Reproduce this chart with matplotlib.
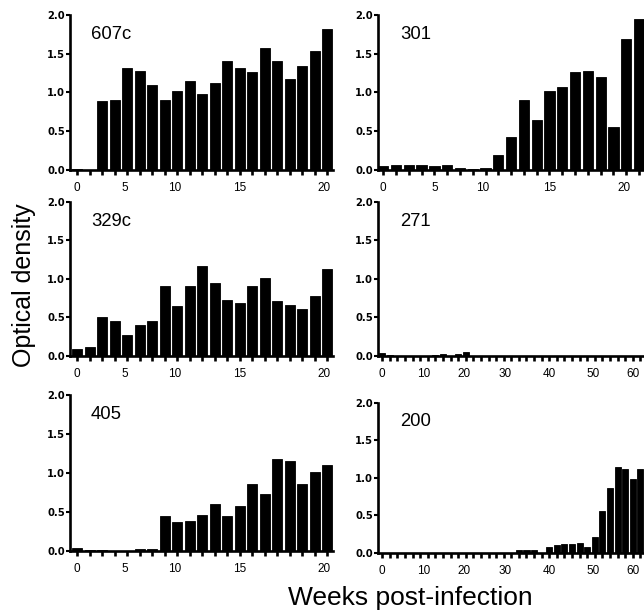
"""Optical density per week post-infection, six animals, bar panels."""

import matplotlib
matplotlib.use("Agg")
import matplotlib.pyplot as plt

plt.rcParams["font.family"] = ["Liberation Sans", "DejaVu Sans"]

# ── data (bar index = sample number along the x axis) ──
od_607c = [0.01, 0.0, 0.89, 0.90, 1.31, 1.28, 1.10, 0.90, 1.02, 1.15, 0.98,
           1.12, 1.40, 1.31, 1.27, 1.58, 1.41, 1.17, 1.34, 1.53, 1.82]
od_329c = [0.09, 0.11, 0.50, 0.45, 0.27, 0.40, 0.45, 0.91, 0.65, 0.90, 1.16,
           0.94, 0.72, 0.69, 0.91, 1.01, 0.71, 0.66, 0.61, 0.77, 1.13]
od_405 = [0.04, 0.01, 0.01, 0.0, 0.0, 0.02, 0.03, 0.45, 0.37, 0.39, 0.46,
          0.60, 0.45, 0.58, 0.86, 0.73, 1.18, 1.16, 0.86, 1.01, 1.10]
od_301 = [0.05, 0.06, 0.07, 0.06, 0.05, 0.06, 0.03, 0.01, 0.03, 0.19, 0.42,
          0.90, 0.64, 1.02, 1.07, 1.26, 1.28, 1.20, 0.56, 1.69, 1.95]
od_271 = [0.04, 0.01, 0.0, 0.0, 0.0, 0.0, 0.0, 0.01, 0.02, 0.0, 0.02,
          0.05, 0.0, 0.0, 0.0, 0.0, 0.0, 0.0, 0.0, 0.0, 0.0, 0.0,
          0.0, 0.0, 0.0, 0.0, 0.0, 0.0, 0.0, 0.0, 0.0, 0.0, 0.0, 0.0, 0.0]
od_200 = [0.0, 0.0, 0.0, 0.0, 0.0, 0.0, 0.0, 0.0, 0.0, 0.0, 0.0, 0.0,
          0.0, 0.0, 0.0, 0.0, 0.0, 0.0, 0.04, 0.03, 0.03, 0.0, 0.08, 0.10,
          0.11, 0.11, 0.13, 0.07, 0.21, 0.56, 0.86, 1.14, 1.12, 0.98, 1.12]

# week labels and where they sit along the sample axis
short_labels = ["0", "5", "10", "15", "20"]
short_label_pos_left = [0, 3.8, 7.8, 13.0, 19.7]
short_label_pos_right = [0, 4.0, 7.8, 13.05, 18.8]
long_labels = ["0", "10", "20", "30", "40", "50", "60"]
long_label_pos = [0, 5.5, 10.8, 16.2, 22.0, 27.8, 33.0]
n_long_ticks = 36

y_ticks = [0.0, 0.5, 1.0, 1.5, 2.0]

W, H = 644, 615


def px_axes(fig, left, top, right, bottom):
    """Add axes from pixel box (origin top-left)."""
    return fig.add_axes([left / W, 1 - bottom / H, (right - left) / W, (bottom - top) / H])


def draw_panel(ax, values, name, xlim, n_ticks, label_pos, labels):
    xs = list(range(len(values)))
    ax.bar(xs, values, width=0.8, color="black", edgecolor="black", linewidth=0.6)
    ax.set_xlim(*xlim)
    ax.set_ylim(0, 2.0)
    for side in ("top", "right"):
        ax.spines[side].set_visible(False)
    for side in ("left", "bottom"):
        ax.spines[side].set_linewidth(1.9)
        ax.spines[side].set_zorder(3)

    ax.set_yticks(y_ticks)
    ax.set_yticklabels([f"{v:.1f}" for v in y_ticks], fontweight="bold", fontsize=7.2,
                       family="DejaVu Sans")
    ax.tick_params(axis="y", length=3, width=1.5, pad=0.5)

    # labels on major ticks (no mark), a short mark under every sample as minor ticks
    ax.xaxis.remove_overlapping_locs = False
    ax.set_xticks(label_pos)
    ax.set_xticklabels(labels, fontsize=8.5)
    ax.tick_params(axis="x", which="major", length=0, pad=9)
    ax.set_xticks(list(range(n_ticks)), minor=True)
    ax.tick_params(axis="x", which="minor", length=3.5, width=1.9)

    ax.text(0.08, 0.845, name, transform=ax.transAxes, fontsize=13.3)


fig = plt.figure(figsize=(W / 100, H / 100), dpi=100)

ax1 = px_axes(fig, 70, 15, 333, 170)
draw_panel(ax1, od_607c, "607c", (-0.58, 20.45), 21, short_label_pos_left, short_labels)
ax2 = px_axes(fig, 70, 201.7, 333, 355.7)
draw_panel(ax2, od_329c, "329c", (-0.58, 20.45), 21, short_label_pos_left, short_labels)
ax3 = px_axes(fig, 70, 395, 333, 551)
draw_panel(ax3, od_405, "405", (-0.58, 20.45), 21, short_label_pos_left, short_labels)

# right column runs past the right edge of the picture
ax4 = px_axes(fig, 378, 15, 651.8, 170)
draw_panel(ax4, od_301, "301", (-0.41, 21.0), 21, short_label_pos_right, short_labels)
ax5 = px_axes(fig, 378, 201.7, 651.8, 355.7)
draw_panel(ax5, od_271, "271", (-0.55, 35.5), n_long_ticks, long_label_pos, long_labels)
ax6 = px_axes(fig, 378, 402.7, 651.8, 552.7)
draw_panel(ax6, od_200, "200", (-0.55, 35.5), n_long_ticks, long_label_pos, long_labels)

fig.text(24 / W, 1 - 285 / H, "Optical density", rotation=90, fontsize=18,
         ha="center", va="center")
fig.text(410 / W, 1 - 598 / H, "Weeks post-infection", fontsize=19,
         ha="center", va="center")

fig.savefig("out.png", dpi=100)
